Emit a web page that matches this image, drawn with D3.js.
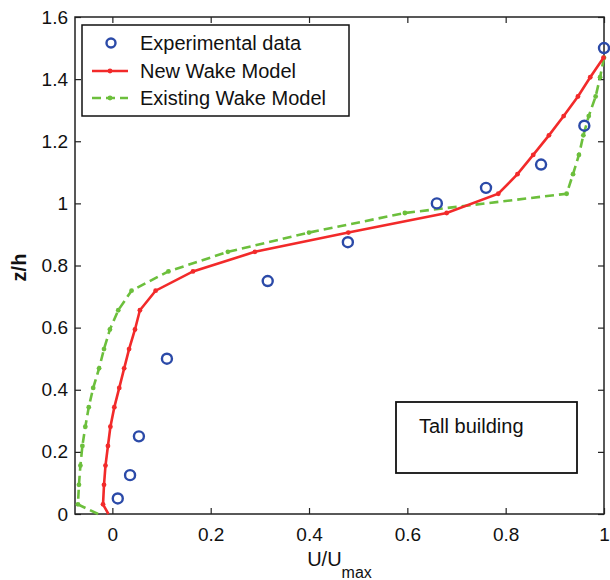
<!DOCTYPE html>
<html>
<head>
<meta charset="utf-8">
<script src="https://cdn.jsdelivr.net/npm/d3@7"></script>
<style>
  body { margin: 0; background: #fff; }
  text { font-family: "Liberation Sans", Arial, sans-serif; fill: #111; }
</style>
</head>
<body>
<div id="chart"></div>
<script>
// experimental points
const expU = [0.011, 0.036, 0.054, 0.111, 0.316, 0.479, 0.66, 0.76, 0.872, 0.96, 1.0];
const expZ = [0.05, 0.125, 0.25, 0.5, 0.75, 0.875, 1.0, 1.05, 1.125, 1.25, 1.5];

// new wake model
const newZ = [0, 0.031, 0.094, 0.156, 0.219, 0.281, 0.344, 0.406, 0.469, 0.531, 0.594, 0.656, 0.719,
  0.781, 0.844, 0.906, 0.969, 1.031, 1.094, 1.156, 1.219, 1.281, 1.344, 1.406, 1.469];
const newU = [-0.008, -0.019, -0.017, -0.014, -0.009, -0.004, 0.004, 0.014, 0.024, 0.034, 0.046, 0.056, 0.088,
  0.164, 0.29, 0.48, 0.68, 0.785, 0.824, 0.856, 0.888, 0.918, 0.947, 0.972, 0.999];

// existing wake model
const oldZ = [0, 0.031, 0.094, 0.156, 0.219, 0.281, 0.344, 0.406, 0.469, 0.531, 0.594, 0.656, 0.719,
  0.781, 0.844, 0.906, 0.969, 1.031, 1.094, 1.156, 1.219, 1.281, 1.344, 1.406, 1.469];
const oldU = [-0.029, -0.07, -0.068, -0.065, -0.061, -0.055, -0.048, -0.039, -0.027, -0.017, -0.005, 0.012, 0.039,
  0.114, 0.235, 0.40, 0.595, 0.924, 0.937, 0.949, 0.958, 0.969, 0.983, 0.992, 1.0];

const xTicks = [0, 0.2, 0.4, 0.6, 0.8, 1];
const xTickLabels = ["0", "0.2", "0.4", "0.6", "0.8", "1"];
const yTicks = [0, 0.2, 0.4, 0.6, 0.8, 1, 1.2, 1.4, 1.6];
const yTickLabels = ["0", "0.2", "0.4", "0.6", "0.8", "1", "1.2", "1.4", "1.6"];
const legendNames = ["Experimental data", "New Wake Model", "Existing Wake Model"];

const svgWidth = 610, svgHeight = 580;
const margin = { top: 17, right: 6, bottom: 66, left: 75 },
  width = svgWidth - margin.left - margin.right,
  height = svgHeight - margin.top - margin.bottom;

const red = "#f22a2a", green = "#6cbf3c", blue = "#2b4aa8";

const svg = d3.select("#chart").append("svg")
    .attr("width", svgWidth)
    .attr("height", svgHeight)
  .append("g")
    .attr("transform", "translate(" + margin.left + "," + margin.top + ")");

const x = d3.scaleLinear().domain([-0.076, 1]).range([0, width]);
const y = d3.scaleLinear().domain([0, 1.6]).range([height, 0]);

const expData = expU.map((u, i) => ({ u: u, z: expZ[i] }));
const newData = newU.map((u, i) => ({ u: u, z: newZ[i] }));
const oldData = oldU.map((u, i) => ({ u: u, z: oldZ[i] }));

const line = d3.line()
  .x(d => x(d.u))
  .y(d => y(d.z));

// axes, ticks pointing inwards
function styleAxis(g) {
  g.select(".domain").remove();
  g.selectAll(".tick line").attr("stroke", "#222").attr("stroke-width", 1.2);
  g.selectAll(".tick text").style("font-size", "19px").attr("fill", "#111");
}

svg.append("g")
    .attr("transform", "translate(0," + height + ")")
    .call(d3.axisBottom(x).tickValues(xTicks).tickFormat((d, i) => xTickLabels[i])
      .tickSizeInner(-6).tickSizeOuter(0).tickPadding(14))
    .call(styleAxis);

svg.append("g")
    .call(d3.axisTop(x).tickValues(xTicks).tickFormat("").tickSizeInner(-6).tickSizeOuter(0))
    .call(styleAxis);

svg.append("g")
    .call(d3.axisLeft(y).tickValues(yTicks).tickFormat((d, i) => yTickLabels[i])
      .tickSizeInner(-6).tickSizeOuter(0).tickPadding(7))
    .call(styleAxis);

svg.append("g")
    .attr("transform", "translate(" + width + ",0)")
    .call(d3.axisRight(y).tickValues(yTicks).tickFormat("").tickSizeInner(-6).tickSizeOuter(0))
    .call(styleAxis);

svg.append("rect")
    .attr("width", width)
    .attr("height", height)
    .attr("fill", "none")
    .attr("stroke", "#222")
    .attr("stroke-width", 1.5);

// existing wake model (dashed green)
svg.append("path")
    .datum(oldData)
    .attr("fill", "none")
    .attr("stroke", green)
    .attr("stroke-width", 2.6)
    .attr("stroke-dasharray", "9,5")
    .attr("d", line);

svg.selectAll(".oldDot")
    .data(oldData.filter(d => d.z > 0))
  .enter().append("circle")
    .attr("cx", d => x(d.u))
    .attr("cy", d => y(d.z))
    .attr("r", 2.4)
    .attr("fill", green);

// new wake model (solid red)
svg.append("path")
    .datum(newData)
    .attr("fill", "none")
    .attr("stroke", red)
    .attr("stroke-width", 2.6)
    .attr("d", line);

svg.selectAll(".newDot")
    .data(newData.filter(d => d.z > 0))
  .enter().append("circle")
    .attr("cx", d => x(d.u))
    .attr("cy", d => y(d.z))
    .attr("r", 2.4)
    .attr("fill", red);

// experimental data
svg.selectAll(".exp")
    .data(expData)
  .enter().append("circle")
    .attr("cx", d => x(d.u))
    .attr("cy", d => y(d.z))
    .attr("r", 5)
    .attr("fill", "none")
    .attr("stroke", blue)
    .attr("stroke-width", 2.4);

// legend
const legend = svg.append("g").attr("transform", "translate(7,8)");
legend.append("rect")
    .attr("width", 267)
    .attr("height", 91)
    .attr("fill", "#fff")
    .attr("stroke", "#111")
    .attr("stroke-width", 1.5);

legend.append("circle")
    .attr("cx", 29).attr("cy", 18).attr("r", 4.5)
    .attr("fill", "none").attr("stroke", blue).attr("stroke-width", 2.4);

legend.append("line")
    .attr("x1", 10).attr("x2", 46).attr("y1", 46).attr("y2", 46)
    .attr("stroke", red).attr("stroke-width", 2.6);
legend.append("circle").attr("cx", 28).attr("cy", 46).attr("r", 2.4).attr("fill", red);

legend.append("line")
    .attr("x1", 10).attr("x2", 46).attr("y1", 73).attr("y2", 73)
    .attr("stroke", green).attr("stroke-width", 2.6).attr("stroke-dasharray", "9,5");
legend.append("circle").attr("cx", 28).attr("cy", 73).attr("r", 2.4).attr("fill", green);

legend.selectAll(".legText")
    .data(legendNames)
  .enter().append("text")
    .attr("x", 58)
    .attr("y", (d, i) => 18 + i * 27.5)
    .attr("dy", "0.36em")
    .style("font-size", "20px")
    .text(d => d);

// annotation box
const note = svg.append("g").attr("transform", "translate(" + (396 - margin.left) + "," + (402 - margin.top) + ")");
note.append("rect")
    .attr("width", 181)
    .attr("height", 71)
    .attr("fill", "#fff")
    .attr("stroke", "#111")
    .attr("stroke-width", 1.8);
note.append("text")
    .attr("x", 23)
    .attr("y", 31)
    .style("font-size", "20px")
    .text("Tall building");

// axis labels
const xLabel = svg.append("text")
    .attr("x", width / 2)
    .attr("y", height + 52)
    .attr("text-anchor", "middle")
    .style("font-size", "20px");
xLabel.append("tspan").text("U/U");
xLabel.append("tspan").attr("dy", 12).style("font-size", "16px").text("max");

svg.append("text")
    .attr("transform", "translate(" + (26 - margin.left) + "," + (height / 2 + 2) + ") rotate(-90)")
    .attr("text-anchor", "middle")
    .style("font-size", "20px")
    .style("font-weight", "bold")
    .text("z/h");
</script>
</body>
</html>
